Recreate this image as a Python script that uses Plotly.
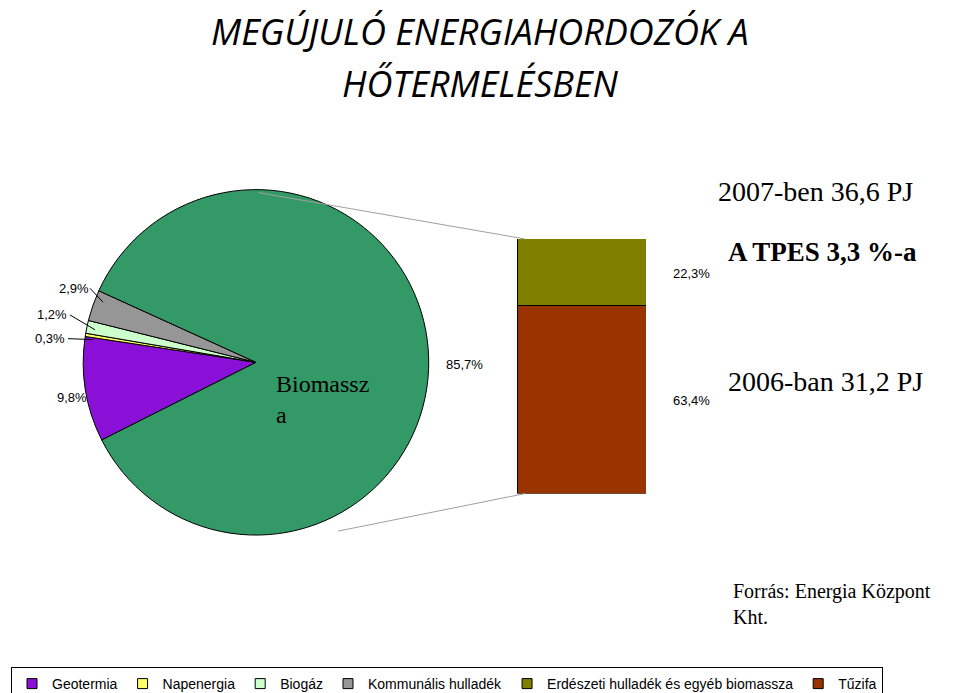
import plotly.graph_objects as go

pie_labels = ["Geotermia", "Napenergia", "Biogáz", "Kommunális hulladék", "Biomassza"]
pie_values = [9.8, 0.3, 1.2, 2.9, 85.7]
pie_colors = ["#8a10d8", "#ffff66", "#ccffcc", "#969696", "#339966"]
bar_labels = ["Tűzifa", "Erdészeti hulladék és egyéb biomassza"]
bar_values = [63.4, 22.3]
bar_colors = ["#993300", "#808000"]
legend_order = ["Geotermia", "Napenergia", "Biogáz", "Kommunális hulladék",
                "Erdészeti hulladék és egyéb biomassza", "Tűzifa"]
legend_colors = ["#8a10d8", "#ffff66", "#ccffcc", "#969696", "#808000", "#993300"]

W, H = 960, 693
def px(x): return x / W
def py(y): return 1 - y / H

fig = go.Figure()
fig.add_trace(go.Pie(labels=pie_labels, values=pie_values, sort=False,
                     direction="clockwise", rotation=243.3, textinfo="none",
                     marker=dict(colors=pie_colors, line=dict(color="black", width=1)),
                     domain=dict(x=[px(73), px(423)], y=[py(534), py(184)]),
                     showlegend=False))
for lab, v, c in zip(bar_labels, bar_values, bar_colors):
    fig.add_trace(go.Bar(x=[0], y=[v], name=lab, marker=dict(color=c, line=dict(color="black", width=1)),
                         width=1, showlegend=False, xaxis="x", yaxis="y"))
for lab, c in zip(legend_order, legend_colors):
    fig.add_trace(go.Scatter(x=[None], y=[None], mode="markers", name=lab,
                             marker=dict(symbol="square", size=10, color=c, line=dict(color="black", width=1))))

fig.update_layout(
    width=W, height=H, margin=dict(l=0, r=0, t=0, b=0),
    plot_bgcolor="white", paper_bgcolor="white", barmode="stack",
    xaxis=dict(domain=[px(509), px(638)], range=[-0.5, 0.5], visible=False),
    yaxis=dict(domain=[py(492), py(234)], range=[0, sum(bar_values)], visible=False),
    legend=dict(orientation="h", x=px(3), y=py(668), xanchor="left", yanchor="top",
                traceorder="normal",
                bordercolor="black", borderwidth=1, font=dict(family="Liberation Sans", size=14, color="black"),
                itemwidth=30, tracegroupgap=0),
    font=dict(family="Liberation Sans", color="black"),
)

ann = []
def t(x, y, s, size=13, fam="Liberation Sans", xa="center", **kw):
    ann.append(dict(x=px(x), y=py(y), xref="paper", yref="paper", text=s, showarrow=False,
                    xanchor=xa, yanchor="middle", font=dict(family=fam, size=size, color="black"), **kw))
t(472, 24, "<i>MEGÚJULÓ ENERGIAHORDOZÓK A</i>", 36, "Open Sans")
t(472, 76, "<i>HŐTERMELÉSBEN</i>", 36, "Open Sans")
t(66, 284, "2,9%"); t(44, 311, "1,2%"); t(42, 335, "0,3%"); t(64, 395, "9,8%")
t(266, 397, "Biomassz<br>a", 24, "Liberation Serif", xa="left", align="left")
t(456, 361, "85,7%"); t(683, 269, "22,3%"); t(683, 398, "63,4%")
t(708, 186, "2007-ben 36,6 PJ", 28, "Liberation Serif", xa="left")
t(718, 247, "<b>A TPES 3,3 %-a</b>", 27, "Liberation Serif", xa="left")
t(718, 378, "2006-ban 31,2 PJ", 28, "Liberation Serif", xa="left")
t(723, 604, "Forrás: Energia Központ<br>Kht.", 20, "Liberation Serif", xa="left", align="left")
fig.update_layout(annotations=ann)

shapes = []
def ln(x0, y0, x1, y1, c="#a0a0a0"):
    shapes.append(dict(type="line", xref="paper", yref="paper", x0=px(x0), y0=py(y0), x1=px(x1), y1=py(y1),
                       line=dict(color=c, width=1)))
ln(250, 187, 517, 234); ln(330, 530, 517, 492)
ln(82, 284, 95, 298, "black"); ln(62, 311, 87, 326, "black"); ln(60, 335, 85, 336, "black")
fig.update_layout(shapes=shapes)

fig.write_html("out.html")
